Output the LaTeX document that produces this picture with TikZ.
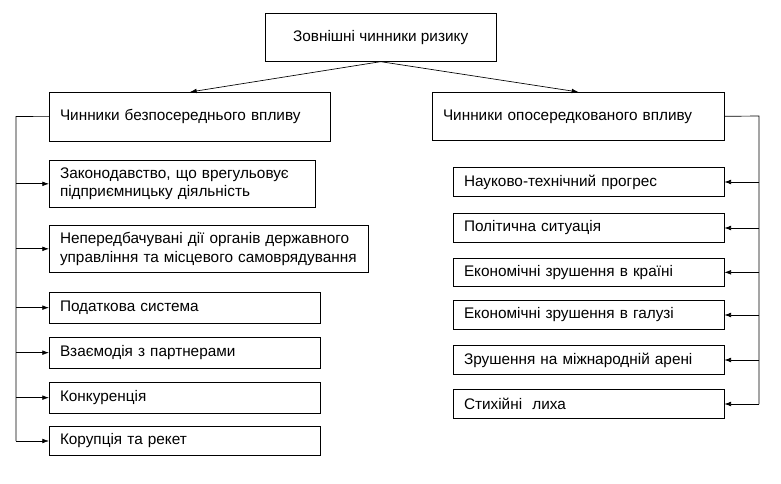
\documentclass[tikz,border=0pt]{standalone}
\usepackage{fontspec}
\setmainfont{Liberation Sans}
\usetikzlibrary{arrows.meta}

\begin{document}
\begin{tikzpicture}[
  x=0.75pt, y=-0.75pt,
  every node/.style={font=\fontsize{11.5}{14}\selectfont},
  box/.style={draw, line width=0.5pt, anchor=north west, align=left, inner xsep=8pt, inner ysep=0pt},
  arr/.style={line width=0.5pt, -{Latex[length=5pt,width=3.5pt]}},
  lnk/.style={line width=0.5pt}
]
  \useasboundingbox (0,0) rectangle (781,484);

  \node[box, align=center, minimum width=173pt, minimum height=36pt] (risk) at (265,13) {Зовнішні чинники ризику};

  \node[box, text width=195pt, minimum height=36.5pt] (direct) at (49,92) {Чинники безпосереднього впливу};
  \node[box, text width=203pt, minimum height=36pt] (indirect) at (432,92) {Чинники опосередкованого впливу};

  % left column
  \node[box, text width=183.5pt, minimum height=35.25pt] (law) at (49,160) {Законодавство, що врегульовує\\підприємницьку діяльність};
  \node[box, text width=223pt, minimum height=35.25pt] (gov) at (49,225) {Непередбачувані дії органів державного\\управління та місцевого самоврядування};
  \node[box, text width=187pt, minimum height=23pt] (tax) at (49,292) {Податкова система};
  \node[box, text width=187pt, minimum height=23pt] (partn) at (49,337) {Взаємодія з партнерами};
  \node[box, text width=187pt, minimum height=23pt] (compet) at (49,382) {Конкуренція};
  \node[box, text width=187pt, minimum height=22pt] (corrupt) at (49,426) {Корупція та рекет};

  % right column
  \node[box, text width=187pt, minimum height=22pt] (sci) at (453,167) {Науково-технічний прогрес};
  \node[box, text width=187pt, minimum height=22pt] (polit) at (453,213) {Політична ситуація};
  \node[box, text width=187pt, minimum height=21pt] (econ) at (453,258) {Економічні зрушення в країні};
  \node[box, text width=187pt, minimum height=22pt] (branch) at (453,300) {Економічні зрушення в галузі};
  \node[box, text width=187pt, minimum height=22pt] (intl) at (453,345) {Зрушення на міжнародній арені};
  \node[box, text width=187pt, minimum height=22pt] (nature) at (453,389) {Стихійні~ лиха};

  \coordinate (lspine) at (16,116.5);
  \coordinate (rspine) at (759,116);

  \draw[arr] (risk.south) -- (direct.north);
  \draw[arr] (risk.south) -- (indirect.north);

  \draw[lnk] (direct.west) -- (lspine) -- (lspine |- corrupt.west);
  \foreach \b in {law,gov,tax,partn,compet,corrupt}
    \draw[arr] (lspine |- \b.west) -- (\b.west);

  \draw[lnk] (indirect.east) -- (rspine) -- (rspine |- nature.east);
  \foreach \b in {sci,polit,econ,branch,intl,nature}
    \draw[arr] (rspine |- \b.east) -- (\b.east);
\end{tikzpicture}
\end{document}
